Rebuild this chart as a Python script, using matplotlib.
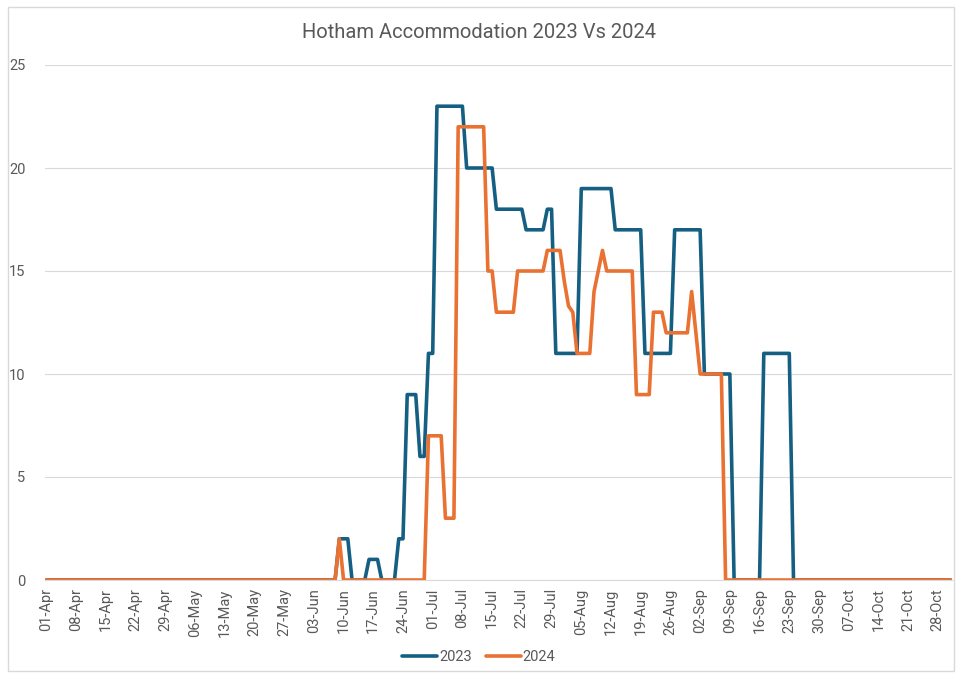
import matplotlib
matplotlib.use('Agg')
import matplotlib.pyplot as plt
import matplotlib.dates as mdates
from matplotlib.patches import Rectangle
import pandas as pd

plt.rcParams['font.family'] = ['Roboto', 'DejaVu Sans']

# daily values, 01-Apr to 31-Oct
dates = pd.date_range('2024-04-01', '2024-10-31')

acc_2023 = ([0] * 69 + [2, 2, 2] + [0] * 4 + [1, 1, 1] + [0] * 4 + [2, 2]
            + [9, 9, 9] + [6, 6] + [11, 11] + [23] * 7 + [20] * 7 + [18] * 7
            + [17] * 5 + [18, 18] + [11] * 6 + [19] * 8 + [17] * 7 + [11] * 7
            + [17] * 7 + [10] * 7 + [0] * 7 + [11] * 7 + [0] * 38)

acc_2024 = ([0] * 69 + [2] + [0] * 20 + [7] * 4 + [3] * 3 + [22] * 7
            + [15, 15] + [13] * 5 + [15] * 7 + [16] * 4 + [14.5, 13.3, 13]
            + [11] * 4 + [14, 15, 16] + [15] * 7 + [9] * 4 + [13] * 3
            + [12] * 6 + [14, 12] + [10] * 6 + [0] * 54)

series_names = ['2023', '2024']
colors = ['#156082', '#E97132']
grey = '#595959'

fig = plt.figure(figsize=(9.58, 6.77), dpi=100)
ax = fig.add_axes([45 / 958, 1 - 580 / 677, 907 / 958, 515 / 677])

for vals, name, c in zip([acc_2023, acc_2024], series_names, colors):
    ax.plot(dates, vals, color=c, lw=2.6, label=name,
            solid_joinstyle='round', solid_capstyle='round')

ax.set_ylim(0, 25)
ax.set_yticks(range(0, 26, 5))
ax.set_xlim(dates[0] - pd.Timedelta(hours=8), dates[-1] + pd.Timedelta(hours=8))
ax.set_xticks(dates[::7])
ax.xaxis.set_major_formatter(mdates.DateFormatter('%d-%b'))
ax.tick_params(axis='x', labelrotation=90, length=0, pad=6, labelsize=10.5, labelcolor=grey)
ax.tick_params(axis='y', length=0, pad=14, labelsize=10.5, labelcolor=grey)

ax.grid(axis='y', color='#D9D9D9', lw=0.8)
ax.set_axisbelow(True)
for s in ['top', 'right', 'left']:
    ax.spines[s].set_visible(False)
ax.spines['bottom'].set_color('#D9D9D9')

fig.text(0.5, 1 - 33 / 677, 'Hotham Accommodation 2023 Vs 2024', ha='center', va='center',
         fontsize=14.5, color=grey)

fig.legend(loc='center', bbox_to_anchor=(0.5, 1 - 657 / 677), ncol=2, frameon=False,
           fontsize=10.5, handlelength=2.4, handletextpad=0.1, columnspacing=1.0,
           labelcolor=grey)

fig.patches.append(Rectangle((8 / 958, 6 / 677), 946 / 958, 664 / 677, transform=fig.transFigure,
                             fill=False, edgecolor='#D9D9D9', lw=1))

plt.savefig('out.png', dpi=100)
